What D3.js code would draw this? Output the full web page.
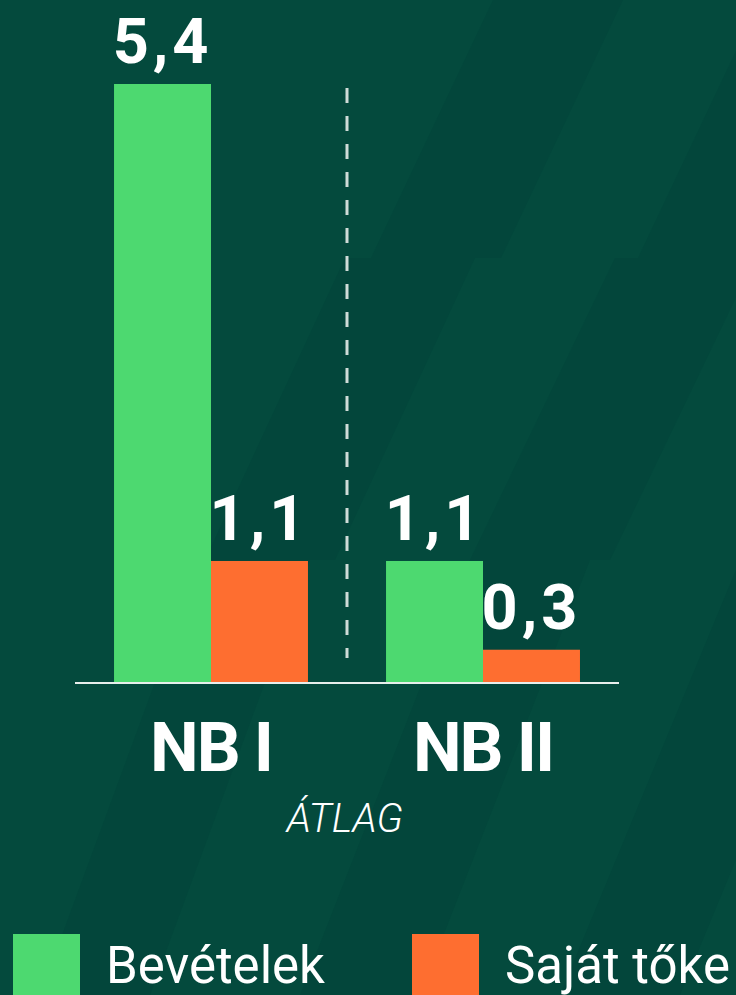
<!DOCTYPE html>
<html>
<head>
<meta charset="utf-8">
<script src="https://cdn.jsdelivr.net/npm/d3@7"></script>
<style>
  html, body { margin: 0; padding: 0; background: #044a3d; }
  svg { display: block; }
</style>
</head>
<body>
<svg id="chart" width="736" height="995"></svg>
<script>
// data
var categories = ["NB I", "NB II"];
var series = ["Bevételek", "Saját tőke"];
var bevetelek = [5.4, 1.1];
var sajatToke = [1.1, 0.3];
var valueLabels = [["5,4", "1,1"], ["1,1", "0,3"]]; // [category][series]
var noteLabel = "ÁTLAG";

var W = 736, H = 995;
var colors = { "Bevételek": "#4dd970", "Saját tőke": "#fe6e30" };
var svg = d3.select("#chart");

// background: flat green with a few slightly darker slanted bands
var bg = svg.append("g");
bg.append("rect").attr("width", W).attr("height", H).attr("fill", "#044a3d");
var bands = [
  // [x at top, x at bottom, y top, y bottom, width]
  [493, 371, 0, 258, 130],
  [760, 638, 0, 258, 120],
  [345, 205, 258, 560, 130],
  [615, 470, 258, 560, 140],
  [900, 760, 258, 560, 140],
  [200, 40, 560, 995, 110],
  [470, 300, 560, 995, 120],
  [740, 560, 560, 995, 120]
];
bg.selectAll("path.band").data(bands).enter().append("path")
  .attr("class", "band")
  .attr("fill", "#03423a")
  .attr("opacity", 0.45)
  .attr("d", function(b) {
    return "M" + b[0] + "," + b[2] + "L" + (b[0] + b[4]) + "," + b[2] +
           "L" + (b[1] + b[4]) + "," + b[3] + "L" + b[1] + "," + b[3] + "Z";
  });

// scales
var baseY = 683;
var x0 = d3.scaleBand().domain(categories).range([75, 619]).paddingInner(0.287).paddingOuter(0.1435);
var x1 = d3.scaleBand().domain(series).range([0, x0.bandwidth()]).padding(0);
var y = d3.scaleLinear().domain([0, 5.4]).range([baseY, 84]);

var rows = categories.map(function(c, i) {
  return { cat: c, vals: [
    { s: series[0], v: bevetelek[i], label: valueLabels[i][0] },
    { s: series[1], v: sajatToke[i], label: valueLabels[i][1] }
  ]};
});

var g = svg.append("g");
var groups = g.selectAll("g.grp").data(rows).enter().append("g")
  .attr("class", "grp")
  .attr("transform", function(d) { return "translate(" + x0(d.cat) + ",0)"; });

groups.selectAll("rect").data(function(d) { return d.vals; }).enter().append("rect")
  .attr("x", function(d) { return x1(d.s); })
  .attr("y", function(d) { return y(d.v); })
  .attr("width", x1.bandwidth())
  .attr("height", function(d) { return baseY - y(d.v); })
  .attr("fill", function(d) { return colors[d.s]; });

groups.selectAll("text.val").data(function(d) { return d.vals; }).enter().append("text")
  .attr("class", "val")
  .attr("x", function(d) { return x1(d.s) + x1.bandwidth() / 2; })
  .attr("y", function(d) { return y(d.v) - 21; })
  .attr("text-anchor", "middle")
  .attr("fill", "#fff")
  .attr("font-family", "Roboto, sans-serif")
  .attr("font-weight", 700)
  .attr("font-size", 63)
  .attr("letter-spacing", 4)
  .text(function(d) { return d.label; });

// baseline
g.append("line")
  .attr("x1", 75).attr("x2", 619)
  .attr("y1", baseY).attr("y2", baseY)
  .attr("stroke", "#e8efec").attr("stroke-width", 2);

// dashed divider between the groups
var midX = (x0(categories[0]) + x0.bandwidth() + x0(categories[1])) / 2;
g.append("line")
  .attr("x1", midX).attr("x2", midX)
  .attr("y1", 88).attr("y2", 658)
  .attr("stroke", "#cfdcd8").attr("stroke-width", 3)
  .attr("stroke-dasharray", "15,13");

// category labels
g.selectAll("text.cat").data(categories).enter().append("text")
  .attr("class", "cat")
  .attr("x", function(d) { return x0(d) + x0.bandwidth() / 2; })
  .attr("y", 771)
  .attr("text-anchor", "middle")
  .attr("fill", "#fff")
  .attr("font-family", "Roboto, sans-serif")
  .attr("font-weight", 700)
  .attr("font-size", 69)
  .attr("letter-spacing", -2)
  .text(function(d) { return d; });

g.append("text")
  .attr("x", midX - 2)
  .attr("y", 832)
  .attr("text-anchor", "middle")
  .attr("fill", "#fff")
  .attr("font-family", "Roboto, sans-serif")
  .attr("font-style", "italic")
  .attr("font-weight", 300)
  .attr("font-size", 40)
  .text(noteLabel);

// legend
var legendX = [13, 412];
var leg = svg.append("g").selectAll("g.leg").data(series).enter().append("g")
  .attr("class", "leg")
  .attr("transform", function(d, i) { return "translate(" + legendX[i] + ",934)"; });
leg.append("rect")
  .attr("width", 67).attr("height", 61)
  .attr("fill", function(d) { return colors[d]; });
leg.append("text")
  .attr("x", 93).attr("y", 49)
  .attr("fill", "#fff")
  .attr("font-family", "Roboto, sans-serif")
  .attr("font-size", 51)
  .text(function(d) { return d; });
</script>
</body>
</html>
